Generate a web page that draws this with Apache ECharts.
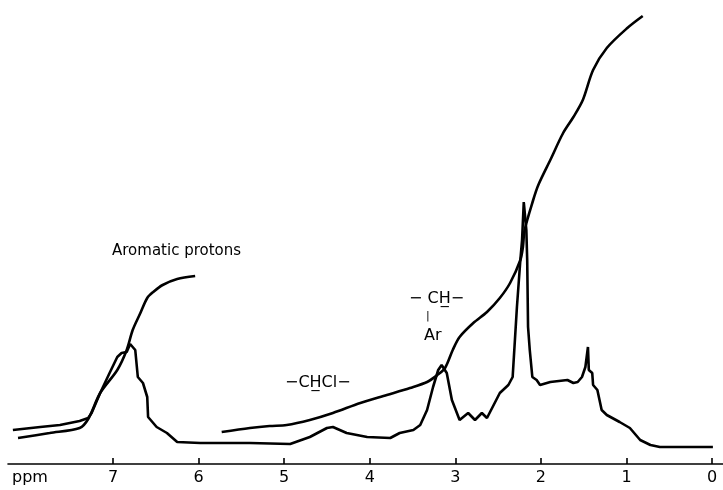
<!DOCTYPE html>
<html lang="en">
<head>
<meta charset="utf-8">
<title>NMR spectrum</title>
<script src="https://cdn.jsdelivr.net/npm/echarts@6/dist/echarts.min.js"></script>
<style>
  html, body { margin: 0; padding: 0; background: #fff; }
  #chart { width: 723px; height: 490px; }
</style>
</head>
<body>
<div id="chart"></div>
<script>
// chemical shift (ppm) and signal height
var specPpm = [8.17, 7.85, 7.62, 7.39, 7.29, 7.25, 7.15, 7.04, 6.95, 6.90, 6.84, 6.80, 6.74, 6.71, 6.65, 6.60, 6.59, 6.49, 6.37, 6.25,
  5.98, 5.40, 4.93, 4.70, 4.50, 4.43, 4.27, 4.03, 3.76, 3.65, 3.49, 3.41, 3.33, 3.26, 3.20, 3.16, 3.10, 3.04, 2.95, 2.85,
  2.77, 2.69, 2.63, 2.48, 2.38, 2.33, 2.28, 2.24, 2.22, 2.20, 2.17, 2.16, 2.15, 2.13, 2.10, 2.05, 2.01, 1.89, 1.69, 1.62,
  1.57, 1.52, 1.48, 1.45, 1.44, 1.40, 1.39, 1.34, 1.29, 1.23, 1.08, 0.96, 0.84, 0.72, 0.61, -0.01];
var specVal = [34, 37, 39, 43, 46, 51, 71, 91, 107, 111, 112, 120, 114, 87, 81, 67, 47, 37, 31, 22,
  21, 21, 20, 27, 36, 37, 31, 27, 26, 31, 34, 39, 54, 77, 94, 99, 91, 64, 44, 51,
  44, 51, 46, 71, 79, 87, 157, 204, 224, 262, 234, 204, 137, 114, 87, 84, 79, 82, 84, 81,
  82, 87, 97, 117, 94, 91, 79, 74, 54, 49, 42, 36, 24, 19, 17, 17];

// integral traces
var aroIntPpm = [8.11, 7.74, 7.39, 7.29, 7.15, 6.95, 6.84, 6.77, 6.68, 6.60, 6.53, 6.42, 6.25, 6.04];
var aroIntVal = [26, 31, 36, 45, 71, 94, 114, 134, 151, 166, 172, 179, 185, 188];

var aliIntPpm = [5.73, 5.40, 5.17, 4.97, 4.70, 4.43, 4.11, 3.80, 3.53, 3.33, 3.21, 3.12, 3.03, 2.95, 2.79, 2.63,
  2.48, 2.36, 2.24, 2.21, 2.19, 2.09, 2.03, 1.89, 1.74, 1.62, 1.51, 1.39, 1.23, 0.99, 0.81];
var aliIntVal = [32, 36, 38, 39, 44, 51, 61, 69, 76, 82, 89, 96, 114, 127, 141, 152,
  166, 181, 204, 217, 234, 264, 279, 304, 331, 347, 364, 394, 416, 436, 448];

var tickPpm = [0, 1, 2, 3, 4, 5, 6, 7];
var unitPos = 7.97;

function pairs(xs, ys) {
  var out = [];
  for (var i = 0; i < xs.length; i++) out.push([xs[i], ys[i]]);
  return out;
}

var lineStyle = { color: '#000', width: 2.6 };
var font = '"DejaVu Sans", sans-serif';

var chart = echarts.init(document.getElementById('chart'));
chart.setOption({
  animation: false,
  backgroundColor: '#fff',
  grid: { left: 8, right: 0, top: 0, bottom: 26 },
  xAxis: {
    type: 'value',
    inverse: true,
    min: -0.128,
    max: 8.227,
    splitLine: { show: false },
    axisLine: { lineStyle: { color: '#000', width: 1.6 } },
    axisTick: { show: true, inside: true, length: 6, customValues: tickPpm, lineStyle: { color: '#000', width: 1.6 } },
    axisLabel: {
      customValues: tickPpm.concat([unitPos]),
      color: '#000', fontSize: 16, fontFamily: font, margin: 6,
      formatter: function (v) { return v > 7.5 ? 'ppm' : String(v); }
    }
  },
  yAxis: { type: 'value', min: 0, max: 464, show: false },
  series: [
    { type: 'line', data: pairs(specPpm, specVal), showSymbol: false, lineStyle: lineStyle },
    { type: 'line', data: pairs(aroIntPpm, aroIntVal), showSymbol: false, smooth: 0.3, lineStyle: lineStyle },
    { type: 'line', data: pairs(aliIntPpm, aliIntVal), showSymbol: false, smooth: 0.3, lineStyle: lineStyle }
  ],
  graphic: [
    { type: 'text', left: 112, top: 244, style: { text: 'Aromatic protons', fontSize: 15, fontFamily: font, fill: '#000' } },
    { type: 'text', left: 285, top: 375, style: { text: '\u2212CH\u0332Cl\u2212', fontSize: 16, fontFamily: font, fill: '#000' } },
    { type: 'text', left: 409, top: 291, style: { text: '\u2212 CH\u0332\u2212', fontSize: 16, fontFamily: font, fill: '#000' } },
    { type: 'text', left: 426, top: 311, style: { text: '|', fontSize: 11, fontFamily: font, fill: '#000' } },
    { type: 'text', left: 424, top: 328, style: { text: 'Ar', fontSize: 16, fontFamily: font, fill: '#000' } }
  ]
});
</script>
</body>
</html>
